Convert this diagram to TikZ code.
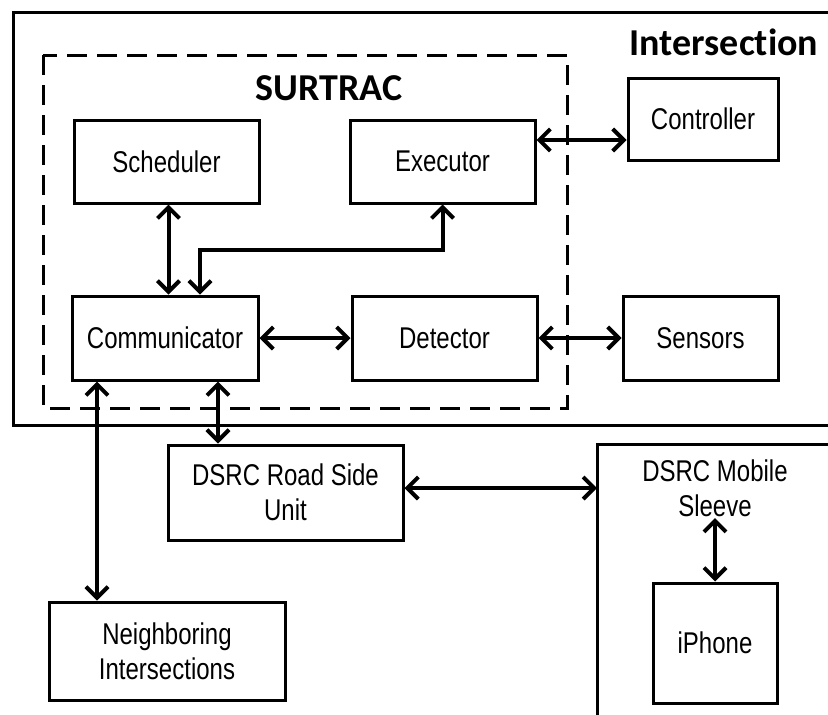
\documentclass[tikz,border=0pt]{standalone}
\usepackage{fontspec}
\usepackage{tikz}
\usetikzlibrary{arrows.meta}
\newfontfamily\boxfont[FakeStretch=0.8]{Liberation Sans}
\newfontfamily\titlefont[Ligatures={NoCommon,NoContextual}]{Carlito}

\tikzset{
  blk/.style={draw,line width=3pt,inner sep=0pt,align=center,
    font=\boxfont\fontsize{30}{35}\selectfont},
  biarrow/.style={line width=4pt,{Straight Barb[length=11pt,width=22pt]}-{Straight Barb[length=11pt,width=22pt]}},
  label/.style={font=\titlefont\bfseries\fontsize{38}{40}\selectfont}
}

\begin{document}
\begin{tikzpicture}[x=1pt,y=-1pt]
                    \useasboundingbox (0,0) rectangle (828,715);
                    \clip (0,0) rectangle (828,715);
                    % intersection and surtrac frames
                    \draw[line width=3pt] (13,12) rectangle (850,425);
                    \draw[line width=3pt,dash pattern=on 20pt off 10pt] (43,55) rectangle (567,408);
                    \node[label] (intersection) at (724,42) {Intersection};
                    \node[label] (surtrac) at (329,88) {SURTRAC};
                    % blocks
                    \node[blk,minimum width=185pt,minimum height=83pt] (sched) at (166.5,161.5) {Scheduler};
                    \node[blk,minimum width=185pt,minimum height=83pt] (exec) at (442.5,161.5) {Executor};
                    \node[blk,minimum width=150pt,minimum height=82pt] (ctrl) at (703,119) {Controller};
                    \node[blk,minimum width=186pt,minimum height=84pt] (comm) at (165,338) {Communicator};
                    \node[blk,minimum width=185pt,minimum height=84pt] (det) at (444.5,338) {Detector};
                    \node[blk,minimum width=155pt,minimum height=84pt] (sens) at (700.5,338) {Sensors};
                    \node[blk,minimum width=235pt,minimum height=95pt] (rsu) at (285.5,492.5) {DSRC Road Side\\Unit};
                    \node[blk,minimum width=236pt,minimum height=98pt] (neigh) at (167,651) {Neighboring\\Intersections};
                    % mobile sleeve
                    \draw[line width=3pt] (597,444) rectangle (850,740);
                    \coordinate (sleevewest) at (597,488);
                    \node[blk,draw=none] (sleeve) at (715,488) {DSRC Mobile\\Sleeve};
                    \node[blk,minimum width=124pt,minimum height=120pt] (iphone) at (715,643) {iPhone};
                    % links
                    \draw[biarrow] (exec.east |- 0,140) -- (ctrl.west |- 0,140);
                    \draw[biarrow] ([xshift=2pt]sched.south) -- ([xshift=2pt]sched.south |- comm.north);
                    \draw[biarrow] (exec.south) |- ([xshift=35pt]comm.north |- 0,250) -- ([xshift=35pt]comm.north);
                    \draw[biarrow] (comm.east) -- (det.west);
                    \draw[biarrow] (det.east) -- (sens.west);
                    \draw[biarrow] ([xshift=-68pt]comm.south) -- ([xshift=-68pt]comm.south |- neigh.north);
                    \draw[biarrow] ([xshift=53pt]comm.south) -- ([xshift=53pt]comm.south |- rsu.north);
                    \draw[biarrow] (rsu.east |- sleevewest) -- (sleevewest);
                    \draw[biarrow] (sleeve.south) -- (iphone.north);
                \end{tikzpicture}
\end{document}
